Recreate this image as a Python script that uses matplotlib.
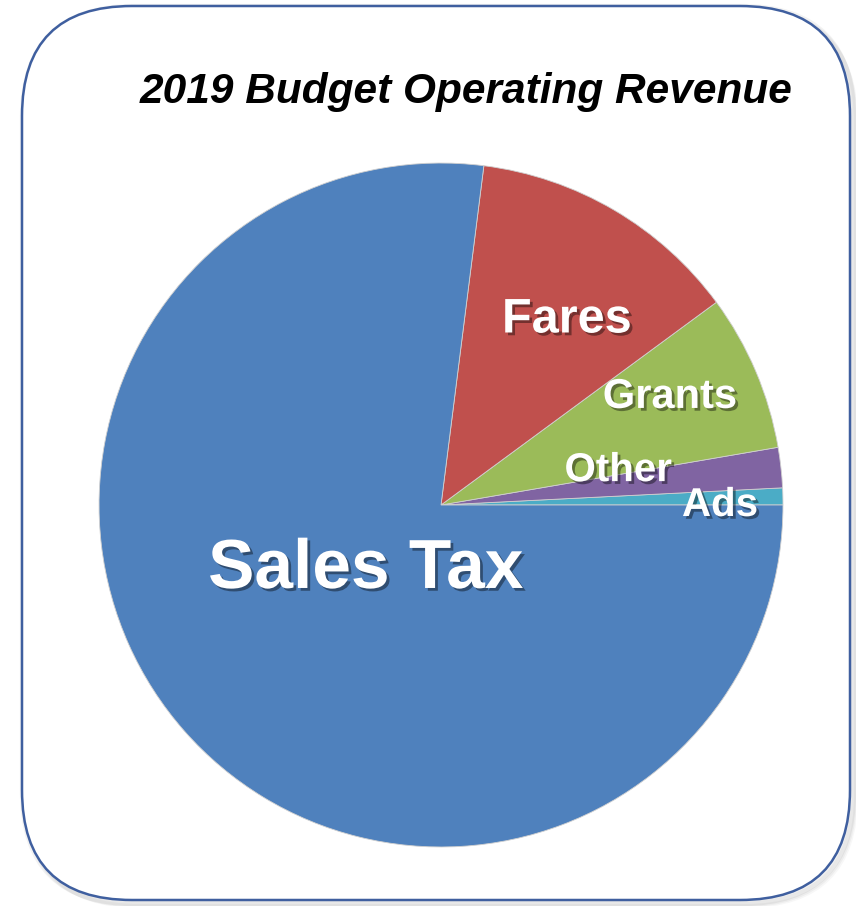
import matplotlib
matplotlib.use("Agg")
import matplotlib.pyplot as plt
import matplotlib.patheffects as pe
from matplotlib.patches import FancyBboxPatch

plt.rcParams["font.family"] = ["Liberation Sans", "DejaVu Sans"]

# revenue shares (percent), counter-clockwise from 3 o'clock
categories = ["Ads", "Other", "Grants", "Fares", "Sales Tax"]
shares = [0.8, 1.9, 7.4, 12.9, 77.0]
colors = ["#4BACC6", "#8064A2", "#9BBB59", "#C0504D", "#4F81BD"]

title = "2019 Budget Operating Revenue"

fig = plt.figure(figsize=(8.56, 9.06), dpi=100)

# background with rounded frame, in pixel units
bg = fig.add_axes([0, 0, 1, 1])
bg.set_xlim(0, 856)
bg.set_ylim(906, 0)
bg.axis("off")
for i, a in enumerate([0.05, 0.04, 0.03]):
    bg.add_patch(FancyBboxPatch((24 + 2 * i, 8 + 2 * i), 828, 894,
                                boxstyle="round,pad=0,rounding_size=110",
                                fc="none", ec="black", lw=6 - 1.5 * i, alpha=a))
bg.add_patch(FancyBboxPatch((22, 6), 828, 894,
                            boxstyle="round,pad=0,rounding_size=110",
                            fc="white", ec="#3F5F9F", lw=1.8))
bg.text(466, 92, title, ha="center", va="center", fontsize=30.5,
        fontweight="bold", fontstyle="italic", color="black")

# pie
ax = fig.add_axes([0.1157, 0.0651, 0.799, 0.755])
ax.pie(shares, colors=colors, startangle=0, counterclock=True,
       wedgeprops=dict(linewidth=0.6, edgecolor="#d0d0d0"))
ax.set_xlim(-1, 1)
ax.set_ylim(-1, 1)
ax.set_aspect("equal")

shadow = [pe.SimplePatchShadow(offset=(2, -2), shadow_rgbFace="black", alpha=0.4),
          pe.Normal()]
label_pos = {
    "Sales Tax": (-0.22, -0.19, 50),
    "Fares": (0.368, 0.541, 35),
    "Grants": (0.67, 0.316, 30),
    "Other": (0.518, 0.102, 29),
    "Ads": (0.816, 0.0, 29),
}
for name in categories:
    x, y, fs = label_pos[name]
    ax.text(x, y, name, ha="center", va="center", fontsize=fs,
            fontweight="bold", color="white", path_effects=shadow)

plt.savefig("out.png", dpi=100)
